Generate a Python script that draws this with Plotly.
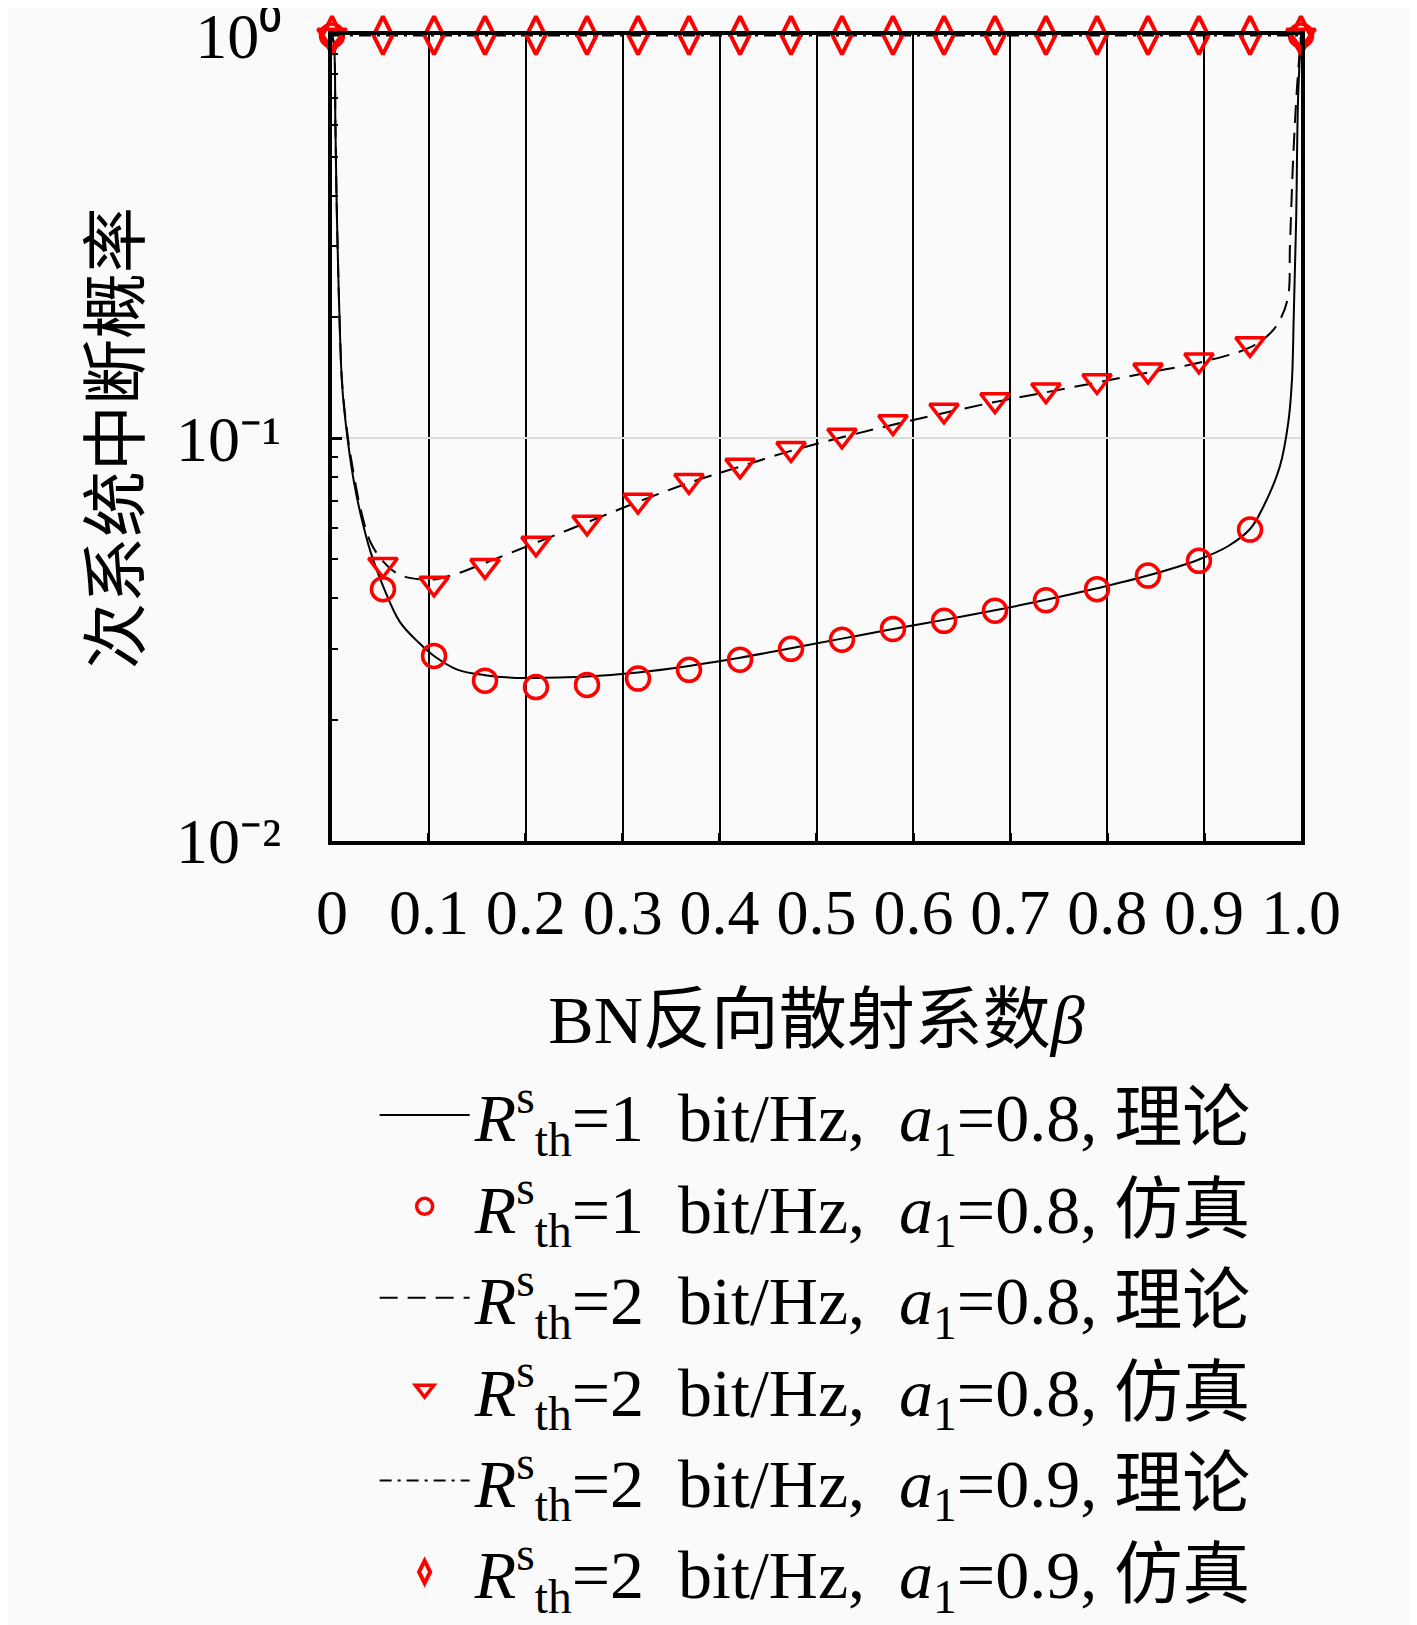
import plotly.graph_objects as go

# 仿真点的 beta 取值（20 个点）
beta_sim = [0, 0.0526, 0.1053, 0.1579, 0.2105, 0.2632, 0.3158, 0.3684, 0.4211, 0.4737,
            0.5263, 0.5789, 0.6316, 0.6842, 0.7368, 0.7895, 0.8421, 0.8947, 0.9474, 1.0]

# 仿真结果
sim_r1_a08 = [1.0, 0.0422, 0.0288, 0.0250, 0.0241, 0.0244, 0.0253, 0.0266, 0.0282, 0.0300,
              0.0316, 0.0336, 0.0352, 0.0373, 0.0396, 0.0422, 0.0456, 0.0496, 0.0593, 1.0]
sim_r2_a08 = [1.0, 0.0485, 0.0436, 0.0482, 0.0548, 0.0618, 0.0700, 0.0784, 0.0856, 0.0941,
              0.1016, 0.1097, 0.1172, 0.1244, 0.1316, 0.1387, 0.1474, 0.1561, 0.1714, 1.0]
sim_r2_a09 = [1.0] * 20

# 理论曲线
beta_th1 = [0, 0.002, 0.0035, 0.0045, 0.0055, 0.008, 0.0105, 0.016, 0.023, 0.03, 0.04,
            0.0526, 0.07, 0.09, 0.1053, 0.13, 0.1579, 0.19, 0.2105, 0.2632, 0.3158, 0.3684,
            0.4211, 0.4737, 0.5263, 0.5789, 0.6316, 0.6842, 0.7368, 0.7895, 0.8421, 0.8947,
            0.925, 0.9474, 0.961, 0.978, 0.987, 0.9907, 0.9925, 0.995, 0.997, 1.0]
th_r1_a08 = [1.0, 0.95, 0.6, 0.42, 0.32, 0.19, 0.135, 0.10, 0.077, 0.064, 0.052,
             0.043, 0.035, 0.031, 0.0288, 0.0266, 0.0258, 0.0254, 0.0254, 0.0256, 0.0262, 0.0272,
             0.0285, 0.0301, 0.0318, 0.0336, 0.0354, 0.0374, 0.0397, 0.0424, 0.0456, 0.0500,
             0.054, 0.0595, 0.0675, 0.0848, 0.11, 0.14, 0.2, 0.35, 0.7, 1.0]

beta_th2 = [0, 0.002, 0.0035, 0.0045, 0.0055, 0.008, 0.0105, 0.016, 0.023, 0.03, 0.04,
            0.0526, 0.065, 0.08, 0.1053, 0.13, 0.1579, 0.2105, 0.2632, 0.3158, 0.3684,
            0.4211, 0.4737, 0.5263, 0.5789, 0.6316, 0.6842, 0.7368, 0.7895, 0.8421, 0.8947,
            0.9474, 0.968, 0.978, 0.9866, 0.9886, 0.992, 0.996, 1.0]
th_r2_a08 = [1.0, 0.95, 0.6, 0.42, 0.32, 0.19, 0.137, 0.102, 0.08, 0.066, 0.055,
             0.0495, 0.0465, 0.0450, 0.0446, 0.0462, 0.049, 0.055, 0.0618, 0.0695, 0.0775,
             0.085, 0.093, 0.1005, 0.108, 0.1155, 0.123, 0.130, 0.1375, 0.1455, 0.154,
             0.168, 0.182, 0.196, 0.224, 0.30, 0.50, 0.75, 1.0]

beta_th3 = [0, 1.0]
th_r2_a09 = [1.0, 1.0]

# 刻度
x_ticks = [0, 0.1, 0.2, 0.3, 0.4, 0.5, 0.6, 0.7, 0.8, 0.9, 1.0]
x_tick_labels = ["0", "0.1", "0.2", "0.3", "0.4", "0.5", "0.6", "0.7", "0.8", "0.9", "1.0"]
y_ticks = [0.01, 0.1, 1]
y_tick_labels = ["10⁻²", "10⁻¹", "10⁰"]
y_minor = [0.02, 0.03, 0.04, 0.05, 0.06, 0.07, 0.08, 0.09,
           0.2, 0.3, 0.4, 0.5, 0.6, 0.7, 0.8, 0.9]

# 图例文字（\u2002 为较宽的空格）
names = [
    "<i>R</i><sup>s</sup><sub>th</sub>=1\u2002bit/Hz,\u2002<i>a</i><sub>1</sub>=0.8, 理论",
    "<i>R</i><sup>s</sup><sub>th</sub>=1\u2002bit/Hz,\u2002<i>a</i><sub>1</sub>=0.8, 仿真",
    "<i>R</i><sup>s</sup><sub>th</sub>=2\u2002bit/Hz,\u2002<i>a</i><sub>1</sub>=0.8, 理论",
    "<i>R</i><sup>s</sup><sub>th</sub>=2\u2002bit/Hz,\u2002<i>a</i><sub>1</sub>=0.8, 仿真",
    "<i>R</i><sup>s</sup><sub>th</sub>=2\u2002bit/Hz,\u2002<i>a</i><sub>1</sub>=0.9, 理论",
    "<i>R</i><sup>s</sup><sub>th</sub>=2\u2002bit/Hz,\u2002<i>a</i><sub>1</sub>=0.9, 仿真",
]

FONT = "Liberation Serif, Noto Sans CJK SC, serif"
RED = "#ff0000"

fig = go.Figure()

fig.add_trace(go.Scatter(x=beta_th1, y=th_r1_a08, mode="lines", name=names[0], legendgroup="g0",
                         line=dict(color="black", width=2), line_shape="spline"))
fig.add_trace(go.Scatter(x=beta_sim, y=sim_r1_a08, mode="markers", name=names[1], legendgroup="g1",
                         marker=dict(symbol="circle-open", size=23, color=RED, line=dict(width=3.5, color=RED)),
                         cliponaxis=False))
fig.add_trace(go.Scatter(x=beta_th2, y=th_r2_a08, mode="lines", name=names[2], legendgroup="g2",
                         line=dict(color="black", width=2, dash="18px,10px"), line_shape="spline"))
fig.add_trace(go.Scatter(x=beta_sim, y=sim_r2_a08, mode="markers", name=names[3], legendgroup="g3",
                         marker=dict(symbol="triangle-down-open", size=25, color=RED, line=dict(width=3.5, color=RED)),
                         cliponaxis=False))
fig.add_trace(go.Scatter(x=beta_th3, y=th_r2_a09, mode="lines", name=names[4], legendgroup="g4",
                         line=dict(color="black", width=2, dash="12px,6px,3px,6px")))
fig.add_trace(go.Scatter(x=beta_sim, y=sim_r2_a09, mode="markers", name=names[5], legendgroup="g5",
                         marker=dict(symbol="diamond-tall-open", size=27, color=RED, line=dict(width=4, color=RED)),
                         cliponaxis=False))

fig.update_xaxes(
    range=[0, 1], tickvals=x_ticks, ticktext=x_tick_labels,
    showgrid=True, gridcolor="black", gridwidth=1.5, zeroline=False,
    showline=True, linewidth=4, linecolor="black", mirror=True,
    ticks="inside", ticklen=8, tickwidth=3, tickcolor="black",
    ticklabelstandoff=12,
    tickfont=dict(family=FONT, size=64, color="black"),
    title=dict(text="BN反向散射系数<i>β</i>", font=dict(family=FONT, size=68, color="black"), standoff=50),
)
fig.update_yaxes(
    type="log", range=[-2, 0.001], tickvals=y_ticks, ticktext=y_tick_labels,
    showgrid=True, gridcolor="#dcdcdc", gridwidth=2, zeroline=False,
    showline=True, linewidth=4, linecolor="black", mirror=True,
    ticks="inside", ticklen=10, tickwidth=3, tickcolor="black",
    minor=dict(tickvals=y_minor, ticks="inside", ticklen=6, tickwidth=2, tickcolor="black", showgrid=False),
    ticklabelstandoff=34, ticklabeloverflow="allow",
    tickfont=dict(family=FONT, size=64, color="black"),
    title=dict(text="次系统中断概率", font=dict(family=FONT, size=66, color="black"), standoff=16),
)

# 页面自带 8px 边距，画布尺寸相应缩小
fig.update_layout(
    width=1409, height=1617,
    margin=dict(l=324, r=116, t=27, b=784, autoexpand=False),
    paper_bgcolor="#fafafa", plot_bgcolor="#fafafa",
    font=dict(family=FONT, color="black"),
    legend=dict(x=0.044, y=-0.277, xanchor="left", yanchor="top",
                font=dict(family=FONT, size=68, color="black"),
                bgcolor="rgba(0,0,0,0)", tracegroupgap=0, itemsizing="trace", itemwidth=90),
)

fig.write_html("out.html")
